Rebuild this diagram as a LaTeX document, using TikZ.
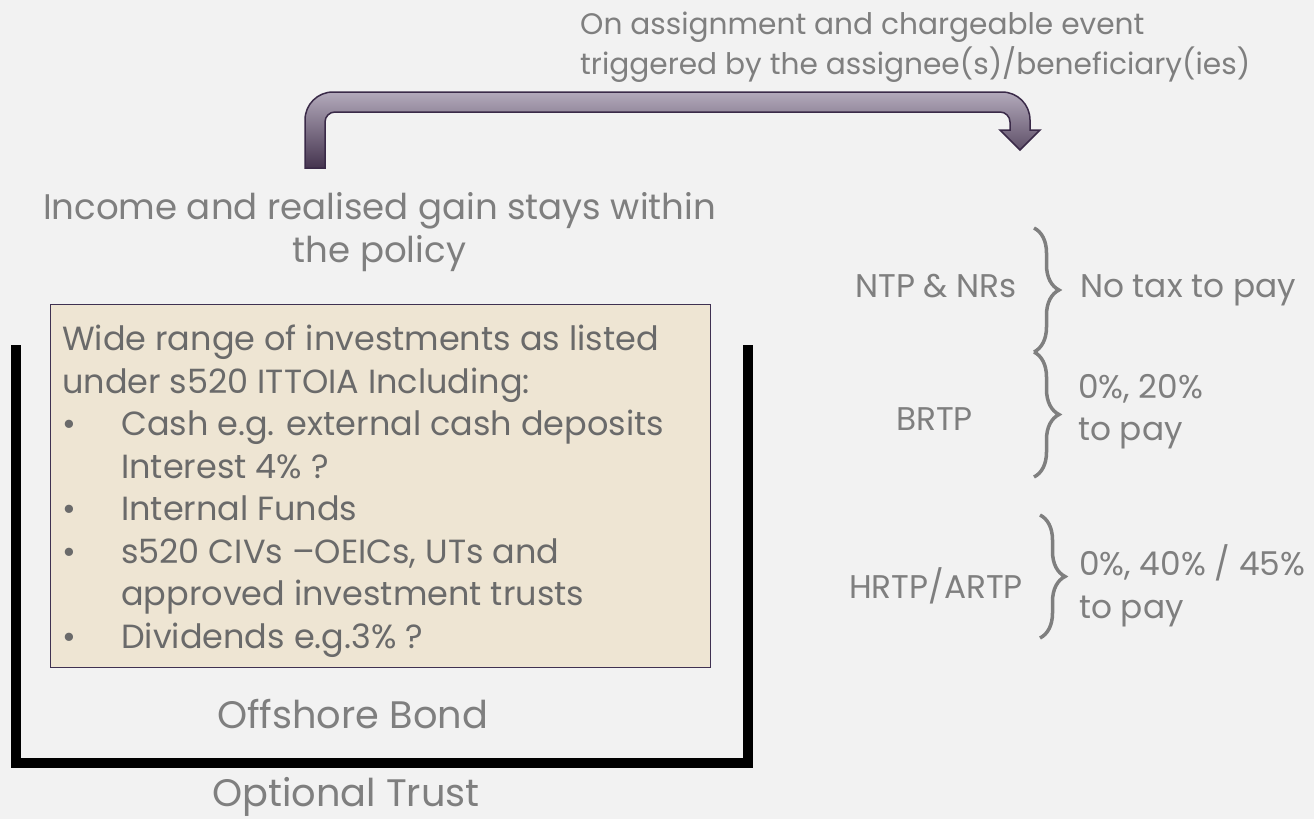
\documentclass[tikz,border=0pt]{standalone}
\usepackage{fontspec}
\setmainfont{Poppins}
\usetikzlibrary{decorations.pathreplacing}
\definecolor{bgc}{HTML}{F2F2F2}
\definecolor{txt}{HTML}{7F7F7F}
\definecolor{boxtxt}{HTML}{6A6A6A}
\definecolor{boxfill}{HTML}{EEE5D3}
\definecolor{boxline}{HTML}{3F3151}
\definecolor{arrtop}{HTML}{B3AABB}
\definecolor{arrbot}{HTML}{45344F}
\definecolor{arrline}{HTML}{3A2A48}
\newlength\natw
\newcommand\calcsize[3]{%
  \pgfinterruptpicture
  \setbox0=\hbox{\fontsize{10}{12}\selectfont #2}%
  \natw=\wd0
  \pgfmathsetmacro\tmpsz{10*#3/\natw}%
  \global\let#1\tmpsz
  \endpgfinterruptpicture}
\newcommand{\blt}{\makebox[59pt][l]{\textbullet}}
\tikzset{
  tl/.style={text=txt, inner sep=0pt},
  bracestyle/.style={draw=txt, line width=3.5pt, decorate, decoration={brace, amplitude=25pt}},
}
\begin{document}
\begin{tikzpicture}[x=1pt,y=-1pt]
\calcsize\szTop{triggered by the assignee(s)/beneficiary(ies)}{670}
\calcsize\szInc{Income and realised gain stays within}{673}
\calcsize\szBox{Cash e.g. external cash deposits}{543}
\calcsize\szBond{Offshore Bond}{271}
\calcsize\szRight{0\%, 40\% / 45\%}{226}
\useasboundingbox (0,0) rectangle (1314,819);
\fill[bgc] (0,0) rectangle (1314,819);
% top text
\tikzset{toptxt/.style={tl, anchor=base west, font=\fontsize{\szTop}{\szTop}\selectfont}}
\node[toptxt] (top1) at (580,34) {On assignment and chargeable event};
\node[toptxt] (top2) at (580,74) {triggered by the assignee(s)/beneficiary(ies)};
% bent arrow
\shade[top color=arrtop, bottom color=arrbot, draw=arrline, line width=1.5pt]
  (305,168) -- (305,120) .. controls (305,104.5) and (317.5,92) .. (333,92)
  -- (1002,92) .. controls (1017.5,92) and (1030,104.5) .. (1030,120)
  -- (1030,130) -- (1040,130) -- (1020,150) -- (1000,130) -- (1010,130)
  -- (1010,122) .. controls (1010,116.5) and (1005.5,112) .. (1000,112)
  -- (335,112) .. controls (329.5,112) and (325,116.5) .. (325,122)
  -- (325,168) -- cycle;
% income text
\tikzset{inctxt/.style={tl, anchor=base, font=\fontsize{\szInc}{\szInc}\selectfont}}
\node[inctxt] (inc1) at (379.5,219) {Income and realised gain stays within};
\node[inctxt] (inc2) at (379.5,262) {the policy};
% tray
\coordinate (trtl) at (15.5,345);
\coordinate (trbl) at (15.5,763);
\coordinate (trbr) at (748,763);
\coordinate (trtr) at (748,345);
\draw[line width=10pt, black] (trtl) -- (trbl) -- (trbr) -- (trtr);
% box
\node[draw=boxline, fill=boxfill, line width=1.3pt, minimum width=660pt, minimum height=363pt, anchor=north west, inner sep=0pt] (box) at (50,304) {};
\tikzset{boxtl/.style={text=boxtxt, inner sep=0pt, anchor=base west, font=\fontsize{\szBox}{\szBox}\selectfont}}
\node[boxtl] (l1) at (62,350.5) {Wide range of investments as listed};
\node[boxtl] (l2) at (62,393) {under s520 ITTOIA Including:};
\node[boxtl] (l3) at (62,435.5) {\blt Cash e.g. external cash deposits};
\node[boxtl] (l4) at (121,478) {Interest 4\% ?};
\node[boxtl] (l5) at (62,520.5) {\blt Internal Funds};
\node[boxtl] (l6) at (62,563) {\blt s520 CIVs –OEICs, UTs and};
\node[boxtl] (l7) at (121,605.5) {approved investment trusts};
\node[boxtl] (l8) at (62,648) {\blt Dividends e.g.3\% ?};
% bond / trust labels
\tikzset{bondtxt/.style={tl, anchor=base, font=\fontsize{\szBond}{\szBond}\selectfont}}
\node[bondtxt] (bond) at (352.5,728) {Offshore Bond};
\node[bondtxt] (trust) at (346,806) {Optional Trust};
% right side
\tikzset{rt/.style={tl, font=\fontsize{\szRight}{\szRight}\selectfont}}
\node[rt, anchor=base east] (ntp) at (1017,297) {NTP \& NRs};
\node[rt, anchor=base] (brtp) at (934.5,430) {BRTP};
\node[rt, anchor=base east] (hrtp) at (1023,598) {HRTP/ARTP};
\coordinate (b1s) at (1034,228); \coordinate (b1e) at (1034,352);
\coordinate (b2s) at (1034,352); \coordinate (b2e) at (1034,477);
\coordinate (b3s) at (1040,515); \coordinate (b3e) at (1040,638);
\draw[bracestyle] (b1s) -- (b1e);
\draw[bracestyle] (b2s) -- (b2e);
\draw[bracestyle] (b3s) -- (b3e);
\node[rt, anchor=base west] (notax) at (1080,297) {No tax to pay};
\node[rt, anchor=base west] (basic1) at (1078,398) {0\%, 20\%};
\node[rt, anchor=base west] (basic2) at (1078,440) {to pay};
\node[rt, anchor=base west] (high1) at (1079,575) {0\%, 40\% / 45\%};
\node[rt, anchor=base west] (high2) at (1079,618) {to pay};
\end{tikzpicture}
\end{document}
